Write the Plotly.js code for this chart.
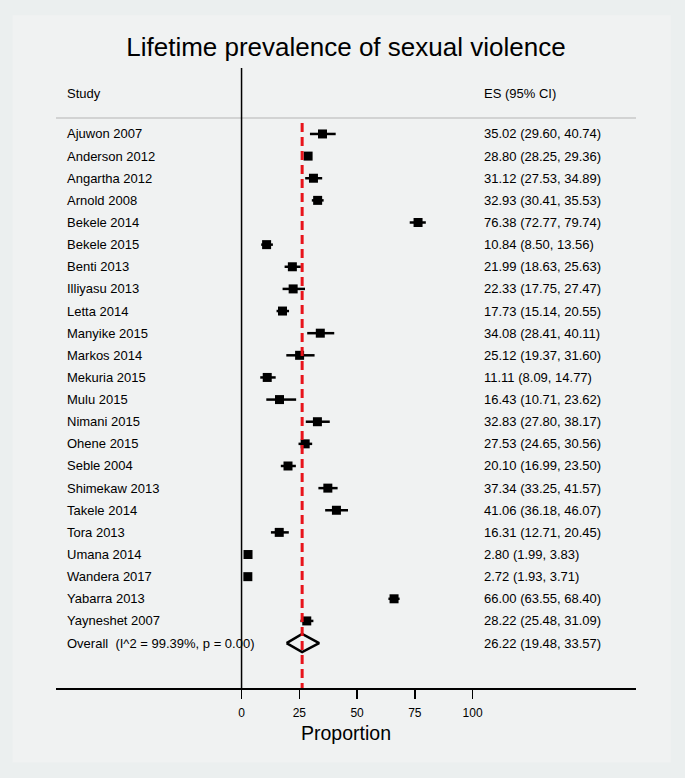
<!DOCTYPE html>
<html>
<head>
<meta charset="utf-8">
<script src="https://cdn.plot.ly/plotly-3.0.1.min.js"></script>
<style>html,body{margin:0;padding:0;background:#ebefef;}#chart{width:685px;height:778px;}</style>
</head>
<body>
<div id="chart"></div>
<script>
// ---- data ----
var studies = ["Ajuwon 2007","Anderson 2012","Angartha 2012","Arnold 2008","Bekele 2014","Bekele 2015","Benti 2013","Illiyasu 2013","Letta 2014","Manyike 2015","Markos 2014","Mekuria 2015","Mulu 2015","Nimani 2015","Ohene 2015","Seble 2004","Shimekaw 2013","Takele 2014","Tora 2013","Umana 2014","Wandera 2017","Yabarra 2013","Yayneshet 2007"];
var es    = [35.02,28.80,31.12,32.93,76.38,10.84,21.99,22.33,17.73,34.08,25.12,11.11,16.43,32.83,27.53,20.10,37.34,41.06,16.31,2.80,2.72,66.00,28.22];
var lo    = [29.60,28.25,27.53,30.41,72.77,8.50,18.63,17.75,15.14,28.41,19.37,8.09,10.71,27.80,24.65,16.99,33.25,36.18,12.71,1.99,1.93,63.55,25.48];
var hi    = [40.74,29.36,34.89,35.53,79.74,13.56,25.63,27.47,20.55,40.11,31.60,14.77,23.62,38.17,30.56,23.50,41.57,46.07,20.45,3.83,3.71,68.40,31.09];
var overallLabel = "Overall\u00a0\u00a0(I^2 = 99.39%, p = 0.00)";
var overallES = 26.22, overallLo = 19.48, overallHi = 33.57;
var tickVals = [0,25,50,75,100];
var titleText = "Lifetime prevalence of sexual violence";
var xTitle = "Proportion";
var headStudy = "Study", headES = "ES (95% CI)";

// ---- build ----
var FONT = "Arial, 'Liberation Sans', sans-serif";
var rows = studies.map(function(_, i){ return i; });
var overallRow = studies.length;
function fmt(v){ return v.toFixed(2); }

var traces = [];
traces.push({
  type: "scatter", mode: "markers", x: es, y: rows,
  marker: {symbol: "square", size: 9, color: "#000"},
  error_x: {type: "data", symmetric: false,
    array: hi.map(function(h, i){ return h - es[i]; }),
    arrayminus: lo.map(function(l, i){ return es[i] - l; }),
    color: "#000", thickness: 2.5, width: 0},
  hoverinfo: "skip", showlegend: false
});
var dh = 0.41;
traces.push({
  type: "scatter", mode: "lines",
  x: [overallLo, overallES, overallHi, overallES, overallLo],
  y: [overallRow, overallRow - dh, overallRow, overallRow + dh, overallRow],
  line: {color: "#000", width: 2.5}, hoverinfo: "skip", showlegend: false
});

var LABX = -76.3, ESX = 104.2;
var TF = {size: 13, color: "#000", family: FONT};
var annotations = [];
studies.concat([overallLabel]).forEach(function(s, i){
  annotations.push({x: LABX, y: i, text: s, xanchor: "left", yanchor: "middle", showarrow: false, font: TF});
});
es.concat([overallES]).forEach(function(v, i){
  var l = i < es.length ? lo[i] : overallLo, h = i < es.length ? hi[i] : overallHi;
  annotations.push({x: ESX, y: i, text: fmt(v) + " (" + fmt(l) + ", " + fmt(h) + ")", xanchor: "left", yanchor: "middle", showarrow: false, font: TF});
});
annotations.push({x: LABX, y: -1.85, text: headStudy, xanchor: "left", yanchor: "middle", showarrow: false, font: TF});
annotations.push({x: ESX, y: -1.85, text: headES, xanchor: "left", yanchor: "middle", showarrow: false, font: TF});

var shapes = [
  {type: "rect", xref: "paper", yref: "paper", x0: -0.075, x1: 1.06, y0: -0.12, y1: 1.085, fillcolor: "#f0f2f2", line: {width: 0}, layer: "below"},
  {type: "line", xref: "paper", yref: "y", x0: 0, x1: 1, y0: -0.72, y1: -0.72, line: {color: "#c9c9c9", width: 1.5}},
  {type: "line", xref: "x", yref: "paper", x0: 0, x1: 0, y0: 0, y1: 1, line: {color: "#000", width: 1.5}},
  {type: "line", xref: "x", yref: "y", x0: overallES, x1: overallES, y0: -0.5, y1: 25.03, line: {color: "#e8141b", width: 3, dash: "9px,5px"}}
];

var layout = {
  width: 685, height: 778,
  paper_bgcolor: "#ebefef", plot_bgcolor: "#ffffff",
  margin: {l: 56, r: 49, t: 68, b: 90},
  font: {family: FONT, color: "#000"},
  title: {text: titleText, font: {size: 26, family: FONT, color: "#000"}, xref: "container", x: 0.505, xanchor: "center", yref: "container", y: 1 - 47/778, yanchor: "middle"},
  xaxis: {range: [-80.3, 170.7], showgrid: false, zeroline: false, showline: true, linecolor: "#000", linewidth: 2,
    ticks: "outside", ticklen: 9, tickwidth: 1.5, tickcolor: "#000", tickvals: tickVals, ticktext: tickVals.map(String),
    ticklabelstandoff: 4,
    tickfont: {size: 12, family: FONT}, title: {text: xTitle, font: {size: 19.5, family: FONT}, standoff: 7}, fixedrange: true},
  yaxis: {range: [25.03, -2.98], visible: false, showgrid: false, zeroline: false, fixedrange: true},
  shapes: shapes, annotations: annotations, showlegend: false
};
Plotly.newPlot("chart", traces, layout, {displayModeBar: false, staticPlot: true});
</script>
</body>
</html>
